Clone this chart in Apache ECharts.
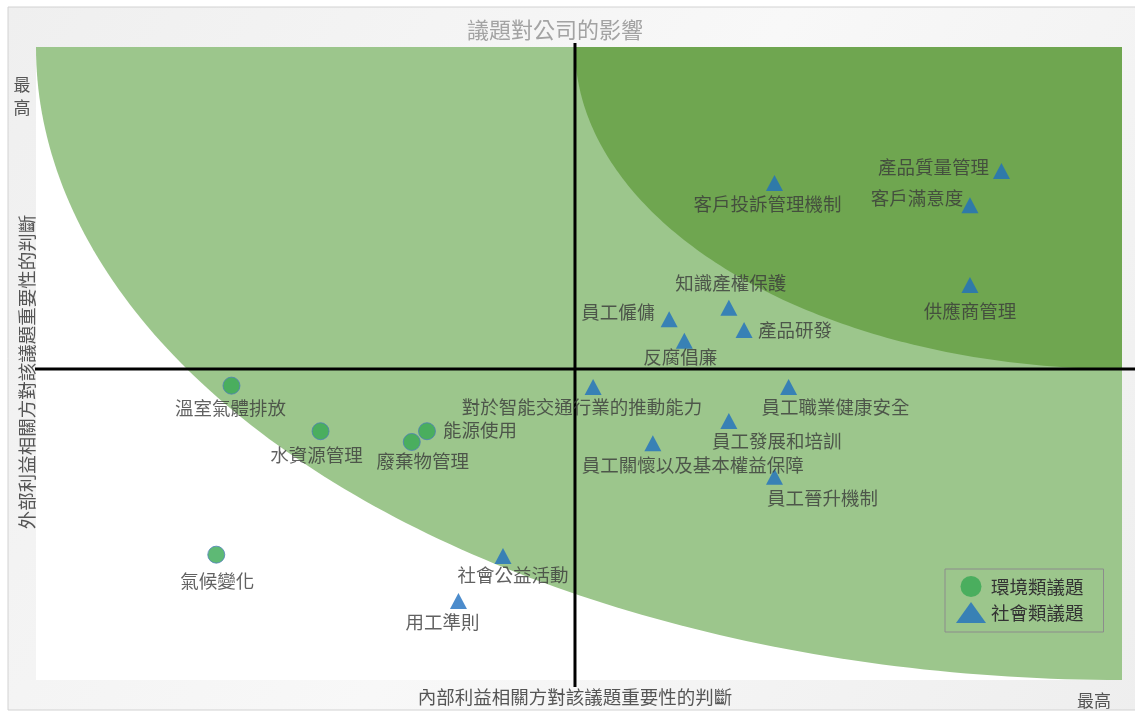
<!DOCTYPE html>
<html><head><meta charset="utf-8">
<script src="https://cdn.jsdelivr.net/npm/echarts@6/dist/echarts.min.js"></script>
<style>html,body{margin:0;padding:0;background:#fff}#c{width:1135px;height:711px}</style>
</head><body><div id="c"></div>
<script>
// ---- data ----
const envNames = ['溫室氣體排放', '水資源管理', '能源使用', '廢棄物管理', '氣候變化'];
const envX = [1.80, 2.62, 3.60, 3.46, 1.66];
const envY = [4.65, 3.93, 3.93, 3.76, 1.98];

const socNames = ['產品質量管理', '客戶滿意度', '客戶投訴管理機制', '供應商管理', '知識產權保護',
  '員工僱傭', '產品研發', '反腐倡廉', '對於智能交通行業的推動能力', '員工職業健康安全',
  '員工發展和培訓', '員工關懷以及基本權益保障', '員工晉升機制', '社會公益活動', '用工準則'];
const socX = [8.89, 8.60, 6.80, 8.60, 6.38, 5.83, 6.52, 5.97, 5.13, 6.93, 6.38, 5.68, 6.80, 4.30, 3.89];
const socY = [8.04, 7.50, 7.85, 6.24, 5.88, 5.70, 5.53, 5.36, 4.63, 4.63, 4.09, 3.74, 3.21, 1.96, 1.25];

const seriesNames = ['環境類議題', '社會類議題'];
const axisMin = 0, axisMax = 10;
const crossX = 4.963, crossY = 4.913;

// ---- label layout (style, kept apart from data) ----
const envLabelOffsets = [[-1, 22], [-4, 24], [53, -1], [11, 19], [1, 26]];
const socLabelOffsets = [[-68, -4], [-53, -7], [-7, 21], [0, 26], [2, -25], [-51, -7], [51, 0], [-4, 16],
  [-11, 20], [47, 20], [48, 20], [40, 22], [48, 21], [10, 19], [-16, 21]];

const FONT = '"Noto Sans CJK TC", "Noto Sans CJK SC", sans-serif';

function build(names, xs, ys, offs) {
  return names.map((n, i) => ({
    name: n, value: [xs[i], ys[i]],
    label: { offset: offs[i] }
  }));
}

const chart = echarts.init(document.getElementById('c'));

function quarterEllipse(cx, cy, rx, ry, steps) {
  const pts = [[cx, cy]];
  for (let k = 0; k <= steps; k++) {
    const t = (Math.PI / 2) * k / steps;
    pts.push([cx - rx * Math.cos(t), cy + ry * Math.sin(t)]);
  }
  return pts;
}

const option = {
  animation: false,
  textStyle: { fontFamily: FONT },
  grid: { left: 36, top: 47, right: 13, bottom: 31, containLabel: false, outerBoundsMode: 'none' },
  xAxis: {
    type: 'value', min: axisMin, max: axisMax,
    axisLine: { show: false }, axisTick: { show: false }, axisLabel: { show: false }, splitLine: { show: false }
  },
  yAxis: {
    type: 'value', min: axisMin, max: axisMax,
    axisLine: { show: false }, axisTick: { show: false }, axisLabel: { show: false }, splitLine: { show: false }
  },
  legend: {
    data: [{ name: seriesNames[0], icon: 'circle' }, { name: seriesNames[1], icon: 'triangle' }],
    orient: 'vertical', left: 945, top: 569,
    itemWidth: 30, itemHeight: 21, itemGap: 5,
    padding: [7, 20, 9, 11],
    borderColor: '#8c8c8c', borderWidth: 1,
    itemStyle: { borderWidth: 0 },
    textStyle: { fontSize: 18.5, color: '#333', fontFamily: FONT }
  },
  graphic: [
    { type: 'rect', z: -10, shape: { x: 8, y: 7, width: 1140, height: 703 },
      style: { fill: new echarts.graphic.LinearGradient(0, 0, 1, 1, [
        { offset: 0, color: '#efefef' }, { offset: 0.5, color: '#f8f8f8' }, { offset: 1, color: '#eeeeee' }]),
        stroke: '#d2d2d2', lineWidth: 1 } },
    { type: 'text', z: 10, x: 555, y: 30,
      style: { text: '議題對公司的影響', fontSize: 22, fill: '#a3a3a3', fontFamily: FONT, align: 'center', verticalAlign: 'middle' } },
    { type: 'text', z: 10, x: 575, y: 697,
      style: { text: '內部利益相關方對該議題重要性的判斷', fontSize: 18.5, fill: '#555', fontFamily: FONT, align: 'center', verticalAlign: 'middle' } },
    { type: 'text', z: 10, x: 27, y: 372, rotation: Math.PI / 2,
      style: { text: '外部利益相關方對該議題重要性的判斷', fontSize: 18.5, fill: '#555', fontFamily: FONT, align: 'center', verticalAlign: 'middle' } },
    { type: 'text', z: 10, x: 22, y: 96,
      style: { text: '最\n高', fontSize: 17, lineHeight: 23, fill: '#555', fontFamily: FONT, align: 'center', verticalAlign: 'middle' } },
    { type: 'text', z: 10, x: 1094, y: 701,
      style: { text: '最高', fontSize: 17, fill: '#555', fontFamily: FONT, align: 'center', verticalAlign: 'middle' } }
  ],
  series: [
    {
      type: 'custom', name: 'bg', z: 0, silent: true,
      data: [[axisMin, axisMin]],
      renderItem: function (params, api) {
        const bl = api.coord([axisMin, axisMin]);
        const tr = api.coord([axisMax, axisMax]);
        const cr = api.coord([crossX, crossY]);
        const light = quarterEllipse(tr[0], tr[1], tr[0] - bl[0], bl[1] - tr[1], 120);
        const dark = quarterEllipse(tr[0], tr[1], tr[0] - cr[0], cr[1] - tr[1], 120);
        return {
          type: 'group',
          children: [
            { type: 'rect', shape: { x: bl[0], y: tr[1], width: tr[0] - bl[0], height: bl[1] - tr[1] }, style: { fill: '#ffffff' } },
            { type: 'polygon', shape: { points: light }, style: { fill: '#9cc68c' } },
            { type: 'polygon', shape: { points: dark }, style: { fill: '#6fa650' } }
          ]
        };
      }
    },
    {
      type: 'scatter', name: seriesNames[0], z: 3,
      symbol: 'circle', symbolSize: 17,
      itemStyle: { color: '#36a852', borderColor: '#4f80b8', borderWidth: 1 },
      label: { show: true, position: 'inside', formatter: '{b}', fontSize: 18.5, color: '#3a3a3a', fontFamily: FONT },
      data: build(envNames, envX, envY, envLabelOffsets)
    },
    {
      type: 'scatter', name: seriesNames[1], z: 3,
      symbol: 'triangle', symbolSize: [17, 16],
      itemStyle: { color: '#1f6fbf' },
      label: { show: true, position: 'inside', formatter: '{b}', fontSize: 18.5, color: '#3a3a3a', fontFamily: FONT },
      data: build(socNames, socX, socY, socLabelOffsets)
    }
  ]
};
chart.setOption(option);

// axis cross lines placed through the chart's own scale
const c = chart.convertToPixel({ gridIndex: 0 }, [crossX, crossY]);
const bl = chart.convertToPixel({ gridIndex: 0 }, [axisMin, axisMin]);
const tr = chart.convertToPixel({ gridIndex: 0 }, [axisMax, axisMax]);
chart.setOption({
  graphic: [
    { type: 'line', id: 'vline', z: 1, shape: { x1: c[0], y1: tr[1] - 4, x2: c[0], y2: bl[1] + 7 }, style: { stroke: '#000', lineWidth: 3 } },
    { type: 'line', id: 'hline', z: 1, shape: { x1: bl[0] - 1, y1: c[1], x2: 1135, y2: c[1] }, style: { stroke: '#000', lineWidth: 3 } }
  ]
});
</script>
</body></html>
